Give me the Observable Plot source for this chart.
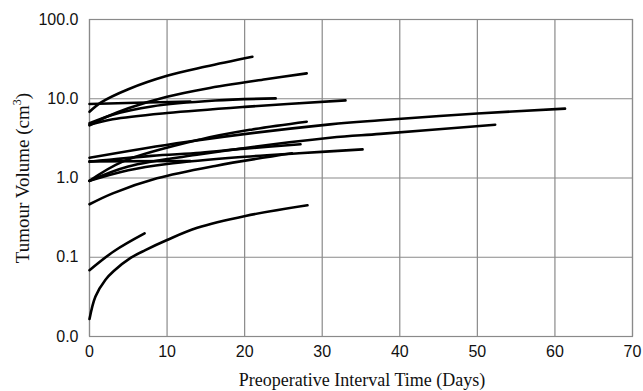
<!DOCTYPE html>
<html>
<head>
<meta charset="utf-8">
<script src="https://cdn.jsdelivr.net/npm/d3@7"></script>
<script src="https://cdn.jsdelivr.net/npm/@observablehq/plot@0.6"></script>
<style>
  html, body { margin: 0; padding: 0; background: #fff; }
  #chart { position: relative; width: 643px; height: 391px; }
  #ytitle { position: absolute; left: 22px; top: 178px; transform: translate(-50%, -50%) rotate(-90deg);
    font-family: "Liberation Serif", "DejaVu Serif", serif; font-size: 19px; color: #111; white-space: nowrap; }
  #xtitle { position: absolute; left: 362px; top: 370px; transform: translateX(-50%);
    font-family: "Liberation Serif", "DejaVu Serif", serif; font-size: 18px; color: #111; white-space: nowrap; }
</style>
</head>
<body>
<div id="chart"></div>
<script>
// Tick values
const xTicks = [0, 10, 20, 30, 40, 50, 60, 70];
const yTicks = [0.01, 0.1, 1, 10, 100];

// Each tumour's growth curve: [day, volume cm3]
const t01 = [[0, 6.85], [1.5, 9.0], [5, 13.2], [10, 19.5], [15, 25.5], [21, 33.9]];
const t02 = [[0, 4.6], [2, 5.8], [5, 7.6], [10, 10.6], [15, 13.4], [22.7, 17.6], [28, 20.9]];
const t03 = [[0, 8.6], [6, 8.9], [13, 9.2]];
const t04 = [[0, 4.9], [3, 6.3], [8, 8.0], [16.2, 9.5], [24, 10.1]];
const t05 = [[0, 4.7], [3, 5.5], [10, 6.6], [20, 7.9], [33, 9.55]];
const t06 = [[0, 0.92], [4.2, 1.6], [14.3, 3.07], [21, 4.1], [28, 5.13]];
const t07 = [[0, 1.8], [12.4, 2.85], [31, 4.75], [37.5, 5.35], [50, 6.5], [61.3, 7.5]];
const t08 = [[0, 0.92], [5, 1.4], [14.3, 1.99], [31, 3.22], [37.5, 3.6], [52.3, 4.7]];
const t09 = [[0, 1.6], [8, 1.9], [14.3, 2.08], [20, 2.35], [27.2, 2.66]];
const t10 = [[0, 1.62], [13, 1.64]];
const t11 = [[0, 0.92], [5, 1.25], [10, 1.5], [20, 1.85], [27, 2.05], [35.2, 2.3]];
const t12 = [[0, 0.466], [3, 0.64], [8.7, 0.99], [16.2, 1.42], [26.1, 2.05]];
const t13 = [[0, 0.0686], [3.2, 0.12], [7.1, 0.2]];
const t14 = [[0, 0.0166], [0.77, 0.032], [2.06, 0.052], [3.13, 0.067], [5.3, 0.098], [7.2, 0.123], [10, 0.165], [13.9, 0.235], [20.1, 0.332], [28.1, 0.453]];

const series = [t01, t02, t03, t04, t05, t06, t07, t08, t09, t10, t11, t12, t13, t14];
const rows = series.flatMap((s, i) => s.map(([day, vol]) => ({id: i, day, vol})));

const plot = Plot.plot({
  width: 643,
  height: 391,
  marginLeft: 89,
  marginRight: 11,
  marginTop: 19,
  marginBottom: 55,
  style: {fontFamily: "'Liberation Sans', Arial, sans-serif", fontSize: "16px", color: "#111", background: "#fff"},
  x: {domain: [0, 70], ticks: xTicks, label: null},
  y: {type: "log", domain: [0.01, 100], ticks: yTicks, label: null},
  marks: [
    Plot.gridX(xTicks, {stroke: "#8a8a8a", strokeOpacity: 1, strokeWidth: 1.2}),
    Plot.gridY(yTicks, {stroke: "#8a8a8a", strokeOpacity: 1, strokeWidth: 1.2}),
    Plot.frame({stroke: "#8a8a8a", strokeWidth: 1.2}),
    Plot.axisX(xTicks, {tickSize: 0, tickPadding: 9, label: null, fontSize: 16}),
    Plot.axisY(yTicks, {tickSize: 0, tickPadding: 11, label: null, fontSize: 16, tickFormat: d => d.toFixed(1)}),
    Plot.line(rows, {x: "day", y: "vol", z: "id", stroke: "#000", strokeWidth: 2.6, curve: "catmull-rom"})
  ]
});
const chart = document.getElementById("chart");
chart.appendChild(plot);
const yt = document.createElement("div");
yt.id = "ytitle";
yt.innerHTML = "Tumour Volume (cm<sup style='font-size:12px'>3</sup>)";
chart.appendChild(yt);
const xt = document.createElement("div");
xt.id = "xtitle";
xt.textContent = "Preoperative Interval Time (Days)";
chart.appendChild(xt);
</script>
</body>
</html>
